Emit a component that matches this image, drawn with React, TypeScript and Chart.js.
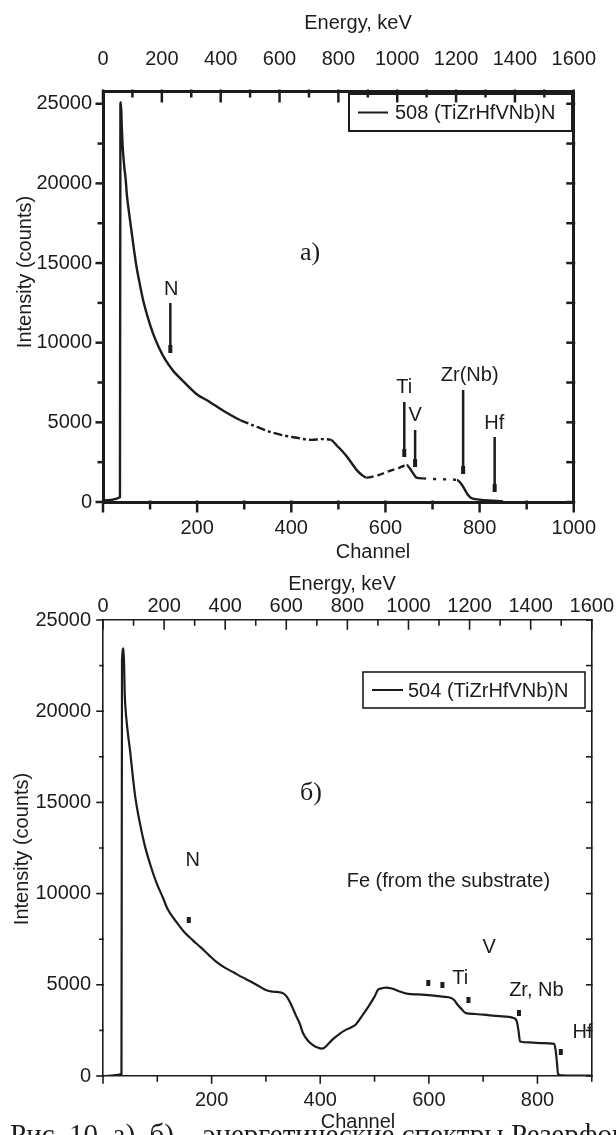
import React, { useEffect, useRef } from "react";
import { Chart, registerables } from "chart.js";

Chart.register(...registerables);

const SANS = "'Liberation Sans', Arial, Helvetica, sans-serif";
const SERIF = "'Liberation Serif', 'Times New Roman', Times, serif";
const INK = "#1c1c1c";
const PAGE_W = 616;

// Energy scale along the top frame of both spectra
const energyMax = 1600;

// ---------- a) sample 508 ----------
const channelsA = [0, 36, 37, 38, 40, 42, 45, 48, 51, 56, 61, 66, 71, 78, 85, 95, 106, 118, 133, 150, 168, 185, 202, 220, 236, 260, 291, 320, 353, 380, 408, 443, 465, 484, 498, 508, 518, 529, 539, 550, 560, 575, 587, 600, 614, 625, 635, 645, 652, 660, 666, 680, 703, 732, 752, 762, 770, 775, 782, 800, 830, 850];
const countsA = [100, 300, 25000, 25100, 23500, 22200, 21100, 20300, 19200, 18000, 16900, 15800, 14800, 13700, 12700, 11600, 10600, 9750, 8900, 8200, 7650, 7150, 6700, 6400, 6100, 5650, 5150, 4800, 4420, 4200, 4050, 3900, 3950, 3900, 3500, 3200, 2850, 2400, 2000, 1700, 1530, 1600, 1700, 1850, 2000, 2100, 2220, 2320, 2100, 1750, 1530, 1480, 1440, 1420, 1380, 1100, 700, 450, 250, 150, 80, 30];
const legendA = "508 (TiZrHfVNb)N";
const markerNamesA = ["N", "Ti", "V", "Zr(Nb)", "Hf"];
const markerChannelsA = [143, 640, 663, 765, 832];
const markerFromA = [12490, 6280, 4520, 7030, 4080];
const markerToA = [9600, 3080, 2450, 2010, 880];
const nameChannelsA = [145, 640, 663, 779, 831];
const nameCountsA = [13310, 7160, 5460, 7970, 4960];

// ---------- б) sample 504 ----------
const channelsB = [0, 34, 35, 38, 40, 41, 45, 50, 55, 59, 67, 77, 88, 98, 110, 119, 135, 150, 165, 180, 195, 210, 225, 241, 256, 271, 286, 301, 314, 325, 332, 338, 346, 356, 362, 368, 377, 386, 395, 404, 413, 422, 435, 447, 456, 465, 477, 489, 500, 507, 513, 520, 532, 545, 562, 580, 604, 625, 641, 647, 653, 660, 668, 685, 701, 730, 756, 762, 765, 768, 786, 810, 831, 834, 836, 838, 845, 870, 900];
const countsB = [0, 100, 22800, 23450, 21000, 20350, 19000, 17790, 16400, 15390, 14000, 12630, 11500, 10630, 9800, 9150, 8450, 7880, 7450, 7050, 6630, 6230, 5930, 5670, 5420, 5200, 4950, 4700, 4620, 4590, 4530, 4370, 3950, 3270, 2900, 2370, 1950, 1710, 1560, 1500, 1700, 1980, 2300, 2530, 2650, 2810, 3300, 3820, 4350, 4750, 4800, 4850, 4800, 4650, 4500, 4470, 4420, 4350, 4280, 4150, 3910, 3680, 3450, 3400, 3360, 3280, 3180, 3000, 2500, 1890, 1840, 1800, 1760, 1300, 700, 110, 30, 20, 20];
const legendB = "504 (TiZrHfVNb)N";
const dotChannelsB = [158, 599, 625, 673, 766, 843];
const dotCountsB = [8550, 5100, 4990, 4170, 3450, 1315];
const noteNamesB = ["N", "Fe (from the substrate)", "V", "Ti", "Zr, Nb", "Hf"];
const noteChannelsB = [165, 636, 711, 658, 798, 883];
const noteCountsB = [11840, 10640, 7070, 5370, 4715, 2410];

// intensity ticks (labelled every 5000, marks every 2500)
const countTicks = [0, 2500, 5000, 7500, 10000, 12500, 15000, 17500, 20000, 22500, 25000];

// channel ranges where the printed trace of a) breaks into dashes
const dashRangesA: [number, number, number[]][] = [
  [270, 475, [9, 3, 3, 3]],
  [560, 640, [7, 4]],
  [670, 752, [3, 7]],
];

type Note = { text: string; x: number; y: number };
type TickSpec = { major: number; majorLen: number; minorLen: number; inward: boolean };
type Title = { text: string; x: number; y: number; rotate?: boolean };

interface Panel {
  canvasTop: number;
  canvasHeight: number;
  area: { left: number; top: number; right: number; bottom: number };
  channelMax: number;
  countsMax: number;
  channels: number[];
  counts: number[];
  legend: string;
  frame: number;
  stroke: number;
  tickWidth: number;
  ticks: Record<string, TickSpec>;
  energyPad: number;
  channelPad: number;
  yPad: number;
  titles: Title[];
  legendBox: { x: number; y: number; w: number; h: number; lineFrom: number; lineTo: number; textX: number; border: number };
  notes: Note[];
  tag: Note;
  markerLines: { x: number; y: number | null }[];
  dots: { x: number; y: number }[];
  dotSize: number;
  dash?: (x: number) => number[] | undefined;
}

const isMultiple = (v: number, step: number) => Math.abs(v / step - Math.round(v / step)) < 1e-6;

function buildConfig(p: Panel): any {
  const font = { family: SANS, size: 20 };
  const border = { display: true, color: INK, width: p.frame };
  const noGrid = { display: false, drawTicks: false, tickLength: 0 };
  const fixedCountTicks = (s: any) => {
    s.ticks = countTicks.filter((v) => v <= p.countsMax).map((v) => ({ value: v }));
  };

  const datasets: any[] = [
    {
      label: p.legend,
      data: p.channels.map((c, i) => ({ x: c, y: p.counts[i] })),
      borderColor: INK,
      borderWidth: p.stroke,
      pointRadius: 0,
      cubicInterpolationMode: "monotone",
      fill: false,
      segment: {
        borderDash: (ctx: any) => (p.dash ? p.dash(ctx.p0.parsed.x) : undefined),
      },
    },
  ];
  if (p.markerLines.length) {
    datasets.push({
      label: "markers",
      data: p.markerLines,
      borderColor: INK,
      borderWidth: 2.5,
      pointRadius: 0,
      spanGaps: false,
    });
  }
  datasets.push({
    label: "dots",
    data: p.dots,
    showLine: false,
    pointStyle: "line",
    pointRotation: 90,
    pointRadius: p.dotSize,
    pointBorderWidth: 4,
    pointBorderColor: INK,
    pointBackgroundColor: INK,
  });

  // tick marks on all four sides of the frame, major/minor lengths per side
  const frameTicks = {
    id: "frameTicks",
    afterDraw(chart: any) {
      const ctx = chart.ctx;
      ctx.save();
      ctx.strokeStyle = INK;
      ctx.lineWidth = p.tickWidth;
      for (const id of Object.keys(p.ticks)) {
        const spec = p.ticks[id];
        const s = chart.scales[id];
        const horiz = s.isHorizontal();
        const edge = horiz ? (s.position === "top" ? s.bottom : s.top) : s.position === "left" ? s.right : s.left;
        const towardArea = s.position === "top" || s.position === "left" ? 1 : -1;
        const dir = spec.inward ? towardArea : -towardArea;
        for (const t of s.ticks) {
          const len = isMultiple(t.value, spec.major) ? spec.majorLen : spec.minorLen;
          if (len <= 0) continue;
          const at = s.getPixelForValue(t.value);
          const a = edge - (dir * p.frame) / 2;
          const b = edge + dir * (len + p.frame / 2);
          ctx.beginPath();
          if (horiz) {
            ctx.moveTo(at, a);
            ctx.lineTo(at, b);
          } else {
            ctx.moveTo(a, at);
            ctx.lineTo(b, at);
          }
          ctx.stroke();
        }
      }
      ctx.restore();
    },
  };

  // legend box, axis titles, element names and the panel letter
  const annotations = {
    id: "annotations",
    afterDraw(chart: any) {
      const ctx = chart.ctx;
      const xs = chart.scales.x;
      const ys = chart.scales.y;
      ctx.save();
      ctx.fillStyle = INK;
      ctx.strokeStyle = INK;

      const lb = p.legendBox;
      ctx.lineWidth = lb.border;
      ctx.strokeRect(lb.x, lb.y, lb.w, lb.h);
      const cy = lb.y + lb.h / 2;
      ctx.lineWidth = 2;
      ctx.beginPath();
      ctx.moveTo(lb.lineFrom, cy);
      ctx.lineTo(lb.lineTo, cy);
      ctx.stroke();
      ctx.font = `20px ${SANS}`;
      ctx.textAlign = "left";
      ctx.textBaseline = "middle";
      ctx.fillText(chart.data.datasets[0].label, lb.textX, cy + 1);

      ctx.textAlign = "center";
      for (const t of p.titles) {
        ctx.save();
        ctx.translate(t.x, t.y);
        if (t.rotate) ctx.rotate(-Math.PI / 2);
        ctx.fillText(t.text, 0, 0);
        ctx.restore();
      }

      for (const n of p.notes) {
        ctx.fillText(n.text, xs.getPixelForValue(n.x), ys.getPixelForValue(n.y));
      }

      ctx.font = `26px ${SERIF}`;
      ctx.fillText(p.tag.text, xs.getPixelForValue(p.tag.x), ys.getPixelForValue(p.tag.y));
      ctx.restore();
    },
  };

  return {
    type: "line",
    data: { datasets },
    options: {
      animation: false,
      responsive: false,
      maintainAspectRatio: false,
      devicePixelRatio: 1,
      events: [],
      layout: { padding: 0, autoPadding: false },
      plugins: { legend: { display: false }, tooltip: { enabled: false } },
      scales: {
        x: {
          type: "linear",
          position: "bottom",
          min: 0,
          max: p.channelMax,
          grid: noGrid,
          border,
          ticks: {
            stepSize: 100,
            autoSkip: false,
            maxRotation: 0,
            padding: p.channelPad,
            color: INK,
            font,
            callback: (v: number) => (v > 0 && isMultiple(v, 200) ? String(v) : ""),
          },
          afterFit: (s: any) => {
            s.height = p.canvasHeight - p.area.bottom;
          },
        },
        x2: {
          type: "linear",
          position: "top",
          min: 0,
          max: energyMax,
          grid: noGrid,
          border,
          ticks: {
            stepSize: 100,
            autoSkip: false,
            maxRotation: 0,
            padding: p.energyPad,
            color: INK,
            font,
            callback: (v: number) => (isMultiple(v, 200) ? String(v) : ""),
          },
          afterFit: (s: any) => {
            s.height = p.area.top;
          },
        },
        y: {
          type: "linear",
          position: "left",
          min: 0,
          max: p.countsMax,
          grid: noGrid,
          border,
          afterBuildTicks: fixedCountTicks,
          ticks: {
            autoSkip: false,
            padding: p.yPad,
            color: INK,
            font,
            callback: (v: number) => (isMultiple(v, 5000) ? String(v) : ""),
          },
          afterFit: (s: any) => {
            s.width = p.area.left;
          },
        },
        yR: {
          type: "linear",
          position: "right",
          min: 0,
          max: p.countsMax,
          grid: noGrid,
          border,
          afterBuildTicks: fixedCountTicks,
          ticks: { display: false },
          afterFit: (s: any) => {
            s.width = PAGE_W - p.area.right;
          },
        },
      },
    },
    plugins: [frameTicks, annotations],
  };
}

const panelA: Panel = {
  canvasTop: 0,
  canvasHeight: 566,
  area: { left: 103, top: 91, right: 587, bottom: 502 },
  channelMax: 1000,
  countsMax: 25800,
  channels: channelsA,
  counts: countsA,
  legend: legendA,
  frame: 3,
  stroke: 2.4,
  tickWidth: 2.5,
  ticks: {
    x: { major: 200, majorLen: 9, minorLen: 6, inward: false },
    x2: { major: 200, majorLen: 10, minorLen: 5, inward: true },
    y: { major: 5000, majorLen: 6, minorLen: 4, inward: false },
    yR: { major: 2500, majorLen: 6, minorLen: 6, inward: true },
  },
  energyPad: 20,
  channelPad: 14,
  yPad: 11,
  titles: [
    { text: "Energy, keV", x: 358, y: 23 },
    { text: "Channel", x: 373, y: 552 },
    { text: "Intensity (counts)", x: 25, y: 272, rotate: true },
  ],
  legendBox: { x: 349, y: 94, w: 223, h: 37, lineFrom: 358, lineTo: 388, textX: 395, border: 2 },
  notes: markerNamesA.map((t, i) => ({ text: t, x: nameChannelsA[i], y: nameCountsA[i] })),
  tag: { text: "a)", x: 440, y: 15630 },
  markerLines: markerChannelsA.flatMap((c, i) => [
    { x: c, y: markerFromA[i] },
    { x: c, y: markerToA[i] },
    { x: c, y: null },
  ]),
  dots: markerChannelsA.map((c, i) => ({ x: c, y: markerToA[i] })),
  dotSize: 4,
  dash: (x: number) => {
    for (const [a, b, d] of dashRangesA) if (x >= a && x < b) return d;
    return undefined;
  },
};

const panelB: Panel = {
  canvasTop: 566,
  canvasHeight: 569,
  area: { left: 103, top: 54, right: 594, bottom: 510 },
  channelMax: 900,
  countsMax: 25000,
  channels: channelsB,
  counts: countsB,
  legend: legendB,
  frame: 1.6,
  stroke: 2.2,
  tickWidth: 1.6,
  ticks: {
    x: { major: 200, majorLen: 7, minorLen: 5, inward: false },
    x2: { major: 200, majorLen: 9, minorLen: 5, inward: true },
    y: { major: 5000, majorLen: 6, minorLen: 3, inward: false },
    yR: { major: 2500, majorLen: 5, minorLen: 5, inward: true },
  },
  energyPad: 2,
  channelPad: 12,
  yPad: 12,
  titles: [
    { text: "Energy, keV", x: 342, y: 18 },
    { text: "Channel", x: 358, y: 556 },
    { text: "Intensity (counts)", x: 22, y: 283, rotate: true },
  ],
  legendBox: { x: 363, y: 106, w: 222, h: 36, lineFrom: 372, lineTo: 403, textX: 408, border: 1.6 },
  notes: noteNamesB.map((t, i) => ({ text: t, x: noteChannelsB[i], y: noteCountsB[i] })),
  tag: { text: "б)", x: 383, y: 15510 },
  markerLines: [],
  dots: dotChannelsB.map((c, i) => ({ x: c, y: dotCountsB[i] })),
  dotSize: 3,
};

function SpectrumPanel({ panel }: { panel: Panel }) {
  const ref = useRef<HTMLCanvasElement>(null);
  useEffect(() => {
    if (!ref.current) return;
    const chart = new Chart(ref.current, buildConfig(panel));
    return () => chart.destroy();
  }, [panel]);
  return (
    <canvas
      ref={ref}
      width={PAGE_W}
      height={panel.canvasHeight}
      style={{ position: "absolute", left: 0, top: panel.canvasTop, display: "block" }}
    />
  );
}

export default function App() {
  return (
    <div
      style={{
        position: "absolute",
        left: 0,
        top: 0,
        width: PAGE_W,
        height: 1135,
        overflow: "hidden",
        background: "#ffffff",
      }}
    >
      <SpectrumPanel panel={panelA} />
      <SpectrumPanel panel={panelB} />
      <div
        style={{
          position: "absolute",
          left: 10,
          top: 1120,
          fontFamily: SERIF,
          fontSize: 29,
          lineHeight: 1,
          whiteSpace: "nowrap",
          color: INK,
        }}
      >
        Рис. 10. а), б) – энергетические спектры Резерфордовского обратного рассеяния
      </div>
    </div>
  );
}
